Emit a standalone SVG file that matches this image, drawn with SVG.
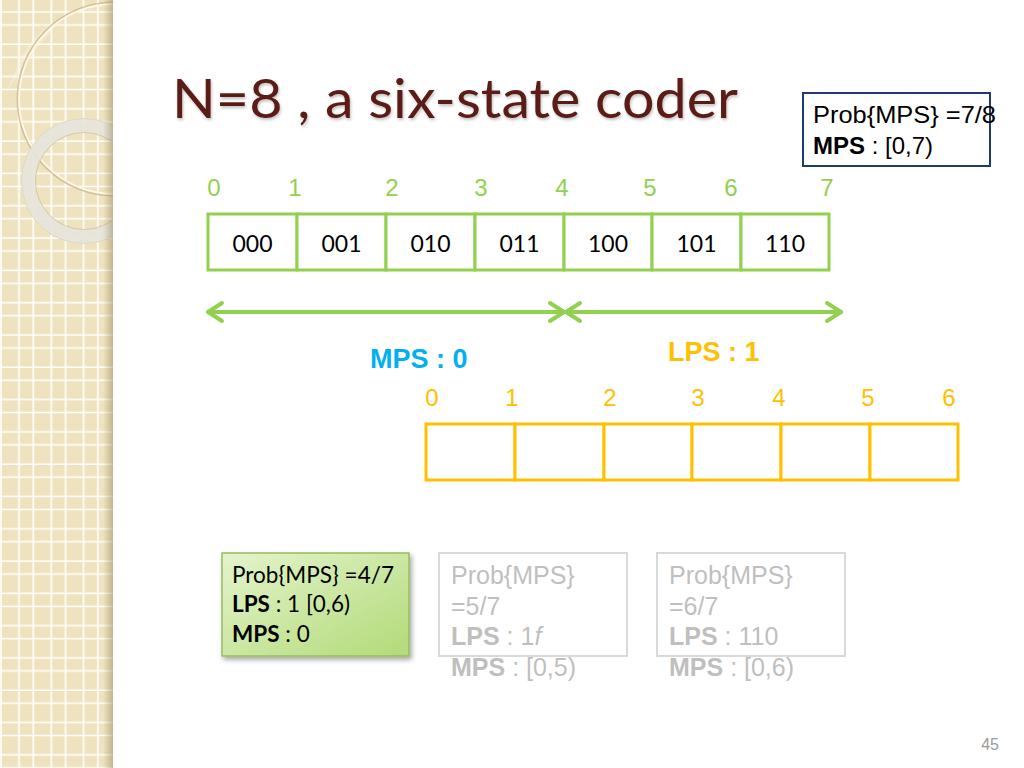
<svg xmlns="http://www.w3.org/2000/svg" width="1024" height="768" viewBox="0 0 1024 768">
  <defs>
    <style>
      .num-g { font-family: "Liberation Sans", Arial, sans-serif; font-size: 24px; fill: #92D050; text-anchor: middle; }
      .num-y { font-family: "Liberation Sans", Arial, sans-serif; font-size: 24px; fill: #FFC000; text-anchor: middle; }
      .cell-g { fill: #FFFFFF; stroke: #92D050; stroke-width: 3; }
      .cell-y { fill: #FFFFFF; stroke: #FFC000; stroke-width: 3; }
      .code { font-family: Lato, "Open Sans", sans-serif; font-size: 23px; fill: #000000; text-anchor: middle; }
      .arrow { stroke: #92D050; stroke-width: 4; fill: none; stroke-linecap: round; stroke-linejoin: round; }
      .arial { font-family: "Liberation Sans", Arial, sans-serif; }
      .gill { font-family: Lato, "Open Sans", sans-serif; }
      .grey-box { fill: #FFFFFF; stroke: #D9D9D9; stroke-width: 2; }
      .grey-txt { font-family: "Liberation Sans", Arial, sans-serif; font-size: 25px; fill: #BFBFBF; }
    </style>
    <pattern id="grid" x="0" y="0" width="32.3" height="32.3" patternUnits="userSpaceOnUse">
      <rect x="0" y="0" width="32.3" height="32.3" fill="#EFE3BF"/>
      <line x1="1" y1="0" x2="1" y2="32.3" stroke="#FFFFFF" stroke-width="1.6"/>
      <line x1="19" y1="0" x2="19" y2="32.3" stroke="#FFFFFF" stroke-width="1.6"/>
      <line x1="0" y1="12" x2="32.3" y2="12" stroke="#FFFFFF" stroke-width="1.6"/>
      <line x1="0" y1="25" x2="32.3" y2="25" stroke="#FFFFFF" stroke-width="1.6"/>
    </pattern>
    <linearGradient id="edge" x1="0" y1="0" x2="1" y2="0">
      <stop offset="0" stop-color="#8C7A50" stop-opacity="0"/>
      <stop offset="1" stop-color="#8C7A50" stop-opacity="0.45"/>
    </linearGradient>
    <linearGradient id="greenFill" x1="0" y1="0" x2="1" y2="1">
      <stop offset="0" stop-color="#E4F4CC"/>
      <stop offset="1" stop-color="#B2DA78"/>
    </linearGradient>
    <clipPath id="stripClip">
      <rect x="0" y="0" width="113" height="768"/>
    </clipPath>
    <filter id="shadow" x="-10%" y="-10%" width="130%" height="140%">
      <feDropShadow dx="2" dy="3" stdDeviation="2.5" flood-color="#000000" flood-opacity="0.35"/>
    </filter>
    <filter id="tshadow" x="-5%" y="-20%" width="110%" height="150%">
      <feDropShadow dx="1" dy="2" stdDeviation="1.5" flood-color="#000000" flood-opacity="0.25"/>
    </filter>
  </defs>

  <rect x="0" y="0" width="1024" height="768" fill="#FFFFFF"/>

  <!-- decorative left strip -->
  <g id="strip">
    <rect x="0" y="0" width="113" height="768" fill="url(#grid)"/>
    <g clip-path="url(#stripClip)">
      <path d="M 60 20 C 40 45 25 60 5 95 L 20 60 C 30 40 45 25 60 20 Z" fill="#FFFFFF" opacity="0.25"/>
      <circle cx="114" cy="99" r="96" fill="none" stroke="#BFA878" stroke-width="3" opacity="0.6"/>
      <circle cx="114" cy="99" r="95" fill="none" stroke="#FFF9EC" stroke-width="1.8"/>
      <circle cx="84" cy="181" r="55.5" fill="none" stroke="#E6E3DC" stroke-width="14" opacity="0.9"/>
      <circle cx="84" cy="181" r="62.5" fill="none" stroke="#D8D2C2" stroke-width="1" opacity="0.7"/>
      <circle cx="84" cy="181" r="48.5" fill="none" stroke="#C9BC98" stroke-width="1" opacity="0.7"/>
    </g>
    <rect x="103" y="0" width="10" height="768" fill="url(#edge)"/>
  </g>

  <!-- title -->
  <text id="title" x="172" y="118" font-family="Lato, 'Open Sans', sans-serif" font-size="54" fill="#5A1A12" textLength="566" lengthAdjust="spacingAndGlyphs" filter="url(#tshadow)">N=8 , a six-state coder</text>

  <!-- top-right info box -->
  <g id="info-box">
    <rect x="803" y="93" width="187" height="73" fill="#FFFFFF" stroke="#1F3A6E" stroke-width="2"/>
    <text class="arial" x="813" y="123" font-size="24" fill="#000000" textLength="183" lengthAdjust="spacingAndGlyphs">Prob{MPS} =7/8</text>
    <text class="arial" x="813" y="154" font-size="24" fill="#000000"><tspan font-weight="bold">MPS</tspan> : [0,7)</text>
  </g>

  <!-- green numbers -->
  <g id="green-numbers">
    <text class="num-g" x="214" y="196">0</text>
    <text class="num-g" x="295" y="196">1</text>
    <text class="num-g" x="392" y="196">2</text>
    <text class="num-g" x="481" y="196">3</text>
    <text class="num-g" x="562" y="196">4</text>
    <text class="num-g" x="650" y="196">5</text>
    <text class="num-g" x="731" y="196">6</text>
    <text class="num-g" x="827" y="196">7</text>
  </g>

  <!-- green cells -->
  <g id="green-cells">
    <g id="cell-000"><rect class="cell-g" x="208" y="214" width="89" height="56"/><text class="code" x="252.5" y="252">000</text></g>
    <g id="cell-001"><rect class="cell-g" x="297" y="214" width="89" height="56"/><text class="code" x="341.5" y="252">001</text></g>
    <g id="cell-010"><rect class="cell-g" x="386" y="214" width="89" height="56"/><text class="code" x="430.5" y="252">010</text></g>
    <g id="cell-011"><rect class="cell-g" x="475" y="214" width="89" height="56"/><text class="code" x="519.5" y="252">011</text></g>
    <g id="cell-100"><rect class="cell-g" x="564" y="214" width="88" height="56"/><text class="code" x="608" y="252">100</text></g>
    <g id="cell-101"><rect class="cell-g" x="652" y="214" width="89" height="56"/><text class="code" x="696.5" y="252">101</text></g>
    <g id="cell-110"><rect class="cell-g" x="741" y="214" width="88" height="56"/><text class="code" x="785" y="252">110</text></g>
  </g>

  <!-- connectors (range arrows) -->
  <g id="connectors">
    <g id="arrow-mps">
      <line class="arrow" x1="208" y1="312" x2="564" y2="312"/>
      <polyline class="arrow" points="222,303 208,312 222,321"/>
      <polyline class="arrow" points="550,303 564,312 550,321"/>
    </g>
    <g id="arrow-lps">
      <line class="arrow" x1="566" y1="312" x2="841" y2="312"/>
      <polyline class="arrow" points="580,303 566,312 580,321"/>
      <polyline class="arrow" points="827,303 841,312 827,321"/>
    </g>
  </g>

  <!-- labels -->
  <text id="mps-label" class="arial" x="370" y="368" font-size="27" font-weight="bold" fill="#00B0F0">MPS : 0</text>
  <text id="lps-label" class="arial" x="668" y="361" font-size="27" font-weight="bold" fill="#FFC000">LPS : 1</text>

  <!-- yellow numbers -->
  <g id="yellow-numbers">
    <text class="num-y" x="432" y="406">0</text>
    <text class="num-y" x="512" y="406">1</text>
    <text class="num-y" x="610" y="406">2</text>
    <text class="num-y" x="698" y="406">3</text>
    <text class="num-y" x="779" y="406">4</text>
    <text class="num-y" x="868" y="406">5</text>
    <text class="num-y" x="949" y="406">6</text>
  </g>

  <!-- yellow cells -->
  <g id="yellow-cells">
    <rect id="ycell-0" class="cell-y" x="426" y="424" width="89" height="56"/>
    <rect id="ycell-1" class="cell-y" x="515" y="424" width="89" height="56"/>
    <rect id="ycell-2" class="cell-y" x="604" y="424" width="88" height="56"/>
    <rect id="ycell-3" class="cell-y" x="692" y="424" width="89" height="56"/>
    <rect id="ycell-4" class="cell-y" x="781" y="424" width="89" height="56"/>
    <rect id="ycell-5" class="cell-y" x="870" y="424" width="88" height="56"/>
  </g>

  <!-- state boxes -->
  <g id="state-47">
    <rect x="222" y="553" width="187" height="103" fill="url(#greenFill)" stroke="#98BC5E" stroke-width="1.5" filter="url(#shadow)"/>
    <text class="gill" x="232" y="583" font-size="22.5" fill="#000000" textLength="162" lengthAdjust="spacingAndGlyphs">Prob{MPS} =4/7</text>
    <text class="gill" x="232" y="612" font-size="22.5" fill="#000000"><tspan font-weight="bold">LPS</tspan> : 1 [0,6)</text>
    <text class="gill" x="232" y="642" font-size="22.5" fill="#000000"><tspan font-weight="bold">MPS</tspan> : 0</text>
  </g>

  <g id="state-57">
    <rect class="grey-box" x="439" y="553" width="188" height="103"/>
    <text class="grey-txt" x="451" y="584">Prob{MPS}</text>
    <text class="grey-txt" x="451" y="615">=5/7</text>
    <text class="grey-txt" x="451" y="645"><tspan font-weight="bold">LPS</tspan> : 1<tspan font-style="italic">f</tspan></text>
    <text class="grey-txt" x="451" y="676"><tspan font-weight="bold">MPS</tspan> : [0,5)</text>
  </g>

  <g id="state-67">
    <rect class="grey-box" x="657" y="553" width="188" height="103"/>
    <text class="grey-txt" x="669" y="584">Prob{MPS}</text>
    <text class="grey-txt" x="669" y="615">=6/7</text>
    <text class="grey-txt" x="669" y="645"><tspan font-weight="bold">LPS</tspan> : 110</text>
    <text class="grey-txt" x="669" y="676"><tspan font-weight="bold">MPS</tspan> : [0,6)</text>
  </g>

  <text id="page-number" class="arial" x="999" y="750" font-size="16" fill="#9A9A9A" text-anchor="end">45</text>
</svg>
